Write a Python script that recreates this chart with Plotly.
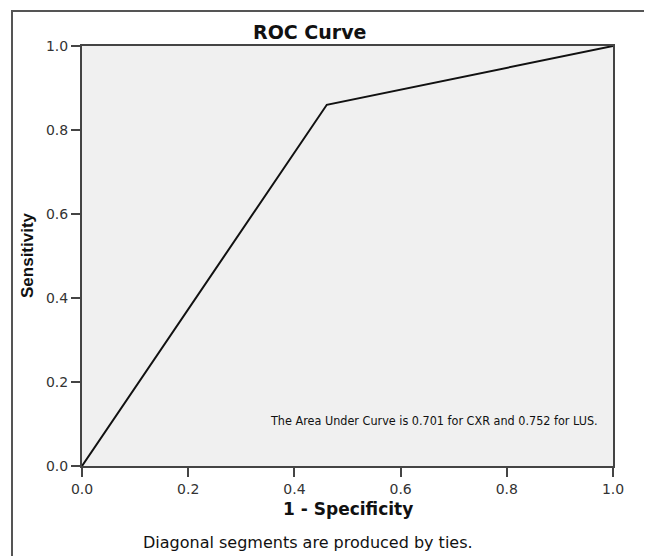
import plotly.graph_objects as go

# Data
fpr = [0.0, 0.461, 1.0]
tpr = [0.0, 0.860, 1.0]
tick_vals = [0.0, 0.2, 0.4, 0.6, 0.8, 1.0]
tick_text = ["0.0", "0.2", "0.4", "0.6", "0.8", "1.0"]
title_text = "ROC Curve"
x_title = "1 - Specificity"
y_title = "Sensitivity"
auc_note = "The Area Under Curve is 0.701 for CXR and 0.752 for LUS."
footnote = "Diagonal segments are produced by ties."

# page has an 8px body margin; figure coords = page coords - 8
W, H = 644, 548
L, R, T, B = 74, 39, 38, 90
pw, ph = W - L - R, H - T - B
OFF = 8

def px(x):  # page x -> paper
    return (x - OFF - L) / pw

def py(y):  # page y -> paper
    return (H - B - (y - OFF)) / ph

fig = go.Figure()
fig.add_trace(go.Scatter(x=fpr, y=tpr, mode="lines",
                         line=dict(color="#111111", width=2), showlegend=False,
                         hoverinfo="skip"))

axis_common = dict(range=[0, 1], tickvals=tick_vals, ticktext=tick_text,
                   showgrid=False, zeroline=False, showline=True, linecolor="#444444",
                   linewidth=2, mirror=True, ticks="outside", ticklen=9,
                   tickcolor="#444444", tickwidth=2,
                   tickfont=dict(family="DejaVu Sans", size=14, color="#333333"))

fig.update_xaxes(**axis_common)
fig.update_yaxes(**axis_common)

fig.add_annotation(text="<b>" + title_text + "</b>", xref="paper", yref="paper",
                   x=px(309), y=py(32), showarrow=False, xanchor="center", yanchor="middle",
                   font=dict(family="DejaVu Sans", size=19, color="#111111"))
fig.add_annotation(text="<b>" + x_title + "</b>", xref="paper", yref="paper",
                   x=px(348), y=py(509), showarrow=False, xanchor="center", yanchor="middle",
                   font=dict(family="DejaVu Sans", size=17, color="#111111"))
fig.add_annotation(text="<b>" + y_title + "</b>", xref="paper", yref="paper",
                   x=px(27), y=py(255), showarrow=False, xanchor="center", yanchor="middle",
                   textangle=-90,
                   font=dict(family="Liberation Sans, Arial", size=17, color="#111111"))
fig.add_annotation(text=footnote, xref="paper", yref="paper",
                   x=px(308), y=py(542), showarrow=False, xanchor="center", yanchor="middle",
                   font=dict(family="DejaVu Sans", size=16, color="#111111"))
fig.add_annotation(text=auc_note, xref="paper", yref="paper",
                   x=px(434), y=py(420), showarrow=False, xanchor="center", yanchor="middle",
                   font=dict(family="DejaVu Sans Condensed, DejaVu Sans", size=12.5,
                             color="#111111"))

# outer frame
fig.add_shape(type="rect", xref="paper", yref="paper",
              x0=px(12), x1=px(649), y0=py(570), y1=py(11),
              line=dict(color="#555555", width=2), fillcolor="rgba(0,0,0,0)", layer="below")

fig.update_layout(width=W, height=H, margin=dict(l=L, r=R, t=T, b=B),
                  paper_bgcolor="white", plot_bgcolor="#f0f0f0")

fig.write_html("out.html")
